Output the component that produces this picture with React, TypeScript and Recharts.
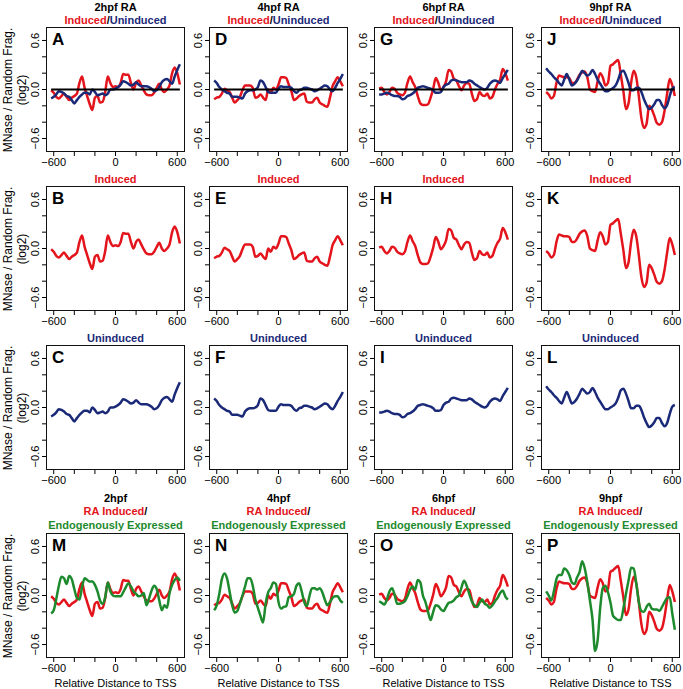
import React from 'react';
import { LineChart, Line, XAxis, YAxis, ReferenceLine } from 'recharts';

// distance to TSS (bp), shared by every profile
const positions = [
  -625, -600, -575, -550, -525, -500, -475, -450, -425, -400,
  -375, -350, -325, -300, -275, -250, -225, -200, -175, -150,
  -125, -100, -75, -50, -25, 0, 25, 50, 75, 100,
  125, 150, 175, 200, 225, 250, 275, 300, 325, 350,
  375, 400, 425, 450, 475, 500, 525, 550, 575, 600,
  625,
];

const stages = ['2hpf', '4hpf', '6hpf', '9hpf'];

// RA induced genes
const inducedH2 = [
  -0.01, -0.04, -0.09, -0.11, -0.08, -0.05, -0.09, -0.13, -0.1, -0.08,
  -0.05, 0.08, 0.16, 0.02, -0.08, -0.18, -0.25, -0.1, -0.08, -0.16,
  -0.15, -0.03, 0.16, 0.08, 0.03, 0.04, 0.03, 0.08, 0.19, 0.18,
  0.18, 0.08, 0.0, 0.08, 0.11, 0.05, -0.01, -0.06, -0.07, -0.07,
  -0.04, 0.02, 0.07, 0.0, -0.03, 0.0, 0.05, 0.2, 0.27, 0.2,
  0.06,
];
const inducedH4 = [
  -0.12, -0.1, -0.09, -0.05, 0.01, -0.01, -0.03, -0.1, -0.16, -0.13,
  -0.09, -0.01, 0.05, 0.05, 0.05, 0.02, -0.1, -0.09, -0.06, -0.1,
  -0.13, 0.0, -0.04, 0.02, 0.0, 0.06, 0.15, 0.15, 0.14, 0.06,
  -0.02, -0.13, -0.11, -0.08, -0.06, -0.05, -0.15, -0.16, -0.16, -0.12,
  -0.1, -0.16, -0.18, -0.2, -0.21, -0.1, 0.04, 0.1, 0.15, 0.1,
  0.04,
];
const inducedH6 = [
  0.01, 0.02, -0.03, -0.06, -0.03, 0.02, 0.01, -0.04, -0.06, -0.07,
  -0.04, 0.08, 0.16, 0.09, 0.03, -0.08, -0.17, -0.19, -0.19, -0.18,
  -0.1, 0.01, 0.14, 0.08, -0.01, 0.03, 0.1, 0.24, 0.22, 0.13,
  0.11, 0.04, -0.01, 0.05, 0.08, 0.07, -0.05, -0.14, -0.12, -0.03,
  -0.07, -0.08, -0.05, -0.11, -0.09, 0.0, 0.07, 0.12, 0.25, 0.2,
  0.11,
];
const inducedH9 = [
  -0.03, -0.06, -0.11, -0.08, 0.08, 0.17, 0.16, 0.15, 0.15, 0.14,
  0.08, 0.08, 0.12, 0.18, 0.21, 0.22, 0.15, 0.0, -0.02, -0.03,
  0.1, 0.2, 0.15, 0.05, 0.08, 0.29, 0.31, 0.34, 0.36, 0.18,
  -0.02, -0.24, -0.17, 0.08, 0.23, 0.15, -0.08, -0.35, -0.47, -0.42,
  -0.2, -0.24, -0.32, -0.41, -0.43, -0.4, -0.26, -0.05, 0.13, 0.05,
  -0.08,
];

// uninduced genes
const uninducedH2 = [
  -0.11, -0.09, -0.06, -0.02, -0.03, -0.05, -0.08, -0.09, -0.13, -0.17,
  -0.13, -0.09, -0.06, -0.04, -0.04, -0.06, 0.0, -0.03, -0.07, -0.06,
  -0.05, -0.07, -0.05, 0.0, 0.0, 0.01, 0.03, 0.06, 0.1, 0.09,
  0.07, 0.05, 0.06, 0.09, 0.06, 0.04, 0.04, 0.04, 0.03, 0.01,
  -0.02, -0.01, 0.03, 0.09, 0.12, 0.13, 0.1, 0.07, 0.16, 0.24,
  0.31,
];
const uninducedH4 = [
  0.11, 0.08, 0.03, 0.0, -0.02, -0.04, -0.05, -0.09, -0.09, -0.09,
  -0.1, -0.11, -0.05, -0.02, -0.01, -0.01, 0.0, 0.03, 0.11, 0.09,
  0.03, -0.03, -0.04, -0.04, -0.04, 0.01, 0.04, 0.03, 0.03, 0.03,
  0.02, -0.02, -0.04, -0.01, 0.0, 0.02, 0.02, 0.01, 0.0, -0.02,
  -0.01, 0.01, 0.03, 0.05, 0.04, 0.0, -0.02, 0.02, 0.08, 0.13,
  0.19,
];
const uninducedH6 = [
  -0.06, -0.06, -0.05, -0.04, -0.05, -0.07, -0.08, -0.08, -0.09, -0.12,
  -0.11, -0.08, -0.07, -0.05, -0.02, 0.02, 0.03, 0.04, 0.03, 0.02,
  0.01, -0.01, -0.04, -0.04, -0.03, 0.03, 0.06, 0.07, 0.11, 0.12,
  0.11, 0.1, 0.09, 0.09, 0.09, 0.11, 0.1, 0.07, 0.05, 0.03,
  0.01, 0.0, 0.02, 0.07, 0.1, 0.11, 0.1, 0.08, 0.14, 0.19,
  0.24,
];
const uninducedH9 = [
  0.26, 0.22, 0.19, 0.15, 0.12, 0.08, 0.05, 0.12, 0.19, 0.12,
  0.05, 0.07, 0.11, 0.17, 0.23, 0.2, 0.17, 0.19, 0.24, 0.19,
  0.12, 0.07, 0.02, -0.02, -0.02, 0.0, 0.02, 0.05, 0.12, 0.21,
  0.23, 0.17, 0.08, -0.01, -0.01, 0.02, 0.02, -0.03, -0.12, -0.19,
  -0.24, -0.22, -0.18, -0.13, -0.13, -0.19, -0.23, -0.19, -0.08, 0.01,
  0.03,
];

// endogenously expressed genes
const endoH2 = [
  -0.22, -0.18, -0.04, 0.12, 0.23, 0.21, 0.14, 0.24, 0.2, 0.08,
  -0.03, -0.05, 0.1, 0.21, 0.19, 0.17, 0.17, 0.13, 0.05, -0.06,
  -0.1, -0.02, 0.16, 0.05, 0.0, -0.01, -0.01, -0.01, 0.04, 0.1,
  0.15, 0.11, 0.05, 0.02, -0.01, 0.0, 0.03, -0.12, -0.04, 0.06,
  0.12, 0.08, -0.06, -0.18, -0.12, -0.15, 0.03, 0.13, 0.19, 0.22,
  0.18,
];
const endoH4 = [
  -0.18, -0.12, 0.02, 0.2, 0.27, 0.21, 0.05, -0.12, -0.21, -0.19,
  -0.1, 0.0, 0.11, 0.21, 0.21, 0.12, -0.05, -0.15, -0.25, -0.33,
  -0.1, 0.04, 0.09, 0.16, 0.14, -0.08, -0.16, -0.14, -0.13, -0.02,
  -0.01, 0.02, 0.12, 0.15, 0.05, -0.08, -0.13, -0.01, 0.09, 0.09,
  0.07, 0.09, 0.04, -0.05, -0.12, -0.08, -0.03, -0.01, -0.01, -0.06,
  -0.09,
];
const endoH6 = [
  -0.07, -0.09, -0.11, -0.05, 0.05, 0.09, 0.01, -0.1, -0.1, -0.09,
  -0.07, -0.01, 0.07, 0.11, 0.07, 0.19, 0.16, 0.0, -0.08, -0.2,
  -0.3, -0.2, -0.12, -0.13, -0.17, -0.19, -0.14, -0.09, -0.08, -0.06,
  -0.02, 0.0, 0.1, 0.18, 0.12, 0.02, -0.07, -0.12, -0.14, -0.09,
  -0.05, -0.1, -0.12, -0.15, -0.12, -0.07, -0.03, 0.03, 0.06, -0.01,
  -0.05,
];
const endoH9 = [
  0.05, 0.0, -0.06, 0.05, 0.2, 0.25, 0.25, 0.33, 0.31, 0.25,
  0.16, 0.14, 0.22, 0.29, 0.42, 0.33, 0.16, -0.06, -0.29, -0.68,
  -0.55, -0.15, 0.09, 0.12, 0.04, -0.09, -0.25, -0.28, -0.3, -0.3,
  -0.16, 0.02, 0.18, 0.34, 0.33, 0.15, -0.08, -0.19, -0.2, -0.14,
  -0.1, -0.16, -0.17, -0.17, -0.19, -0.14, -0.08, -0.03, -0.02, -0.22,
  -0.42,
];

const induced = [inducedH2, inducedH4, inducedH6, inducedH9];
const uninduced = [uninducedH2, uninducedH4, uninducedH6, uninducedH9];
const endo = [endoH2, endoH4, endoH6, endoH9];

const xTicks = [-600, -400, -200, 0, 200, 400, 600];
const yTicks = [-0.6, -0.4, -0.2, 0, 0.2, 0.4, 0.6];

const RED = '#e3141c';
const BLUE = '#1b2a78';
const GREEN = '#1e8a2e';
const FONT = '"Liberation Sans", Arial, Helvetica, sans-serif';

const colLeft = [46, 209, 374, 541];
const rowTop = [27, 186, 345, 533];
const BOX_W = 139;
const BOX_H = 125;
const AXIS_W = 40;
const AXIS_H = 24;
const PAD = 6;

const fmtX = (v: number) => (v === 0 ? '0' : v === 600 ? '600' : v === -600 ? '\u2212600' : '');

function YTick(props: any) {
  const { x, y, payload } = props;
  const v = payload.value;
  let label = '';
  if (Math.abs(v) < 1e-9) label = '0.0';
  else if (Math.abs(v - 0.6) < 1e-9) label = '0.6';
  else if (Math.abs(v + 0.6) < 1e-9) label = '\u22120.6';
  if (!label) return null;
  return (
    <text x={x} y={y} transform={`rotate(-90 ${x} ${y})`} textAnchor="middle" fontSize={11} fill="#000">
      {label}
    </text>
  );
}

type Series = { key: string; values: number[]; color: string };

function Panel({ letter, lines, zero, left, top }: { letter: string; lines: Series[]; zero?: boolean; left: number; top: number }) {
  const data = positions.map((pos, i) => {
    const row: any = { pos };
    lines.forEach((l) => (row[l.key] = l.values[i]));
    return row;
  });
  return (
    <div style={{ position: 'absolute', left: left - AXIS_W, top: top - PAD, fontFamily: FONT }}>
      <LineChart
        width={BOX_W + AXIS_W + PAD}
        height={BOX_H + PAD + AXIS_H}
        data={data}
        margin={{ top: PAD, right: PAD, bottom: 0, left: 0 }}
      >
        <XAxis
          type="number"
          dataKey="pos"
          domain={[-675, 675]}
          ticks={xTicks}
          interval={0}
          tickFormatter={fmtX}
          axisLine={false}
          tickSize={4}
          tickMargin={2}
          height={AXIS_H}
          tick={{ fontSize: 11, fill: '#000' }}
          tickLine={{ stroke: '#000' }}
          allowDataOverflow
        />
        <YAxis
          type="number"
          domain={[-0.765, 0.765]}
          ticks={yTicks}
          interval={0}
          width={AXIS_W}
          axisLine={false}
          tickSize={4}
          tickMargin={3}
          tick={<YTick />}
          tickLine={{ stroke: '#000' }}
          allowDataOverflow
        />
        {lines.map((l) => (
          <Line
            key={l.key}
            type="monotone"
            dataKey={l.key}
            stroke={l.color}
            strokeWidth={2.5}
            dot={false}
            isAnimationActive={false}
          />
        ))}
        {zero && (
          <ReferenceLine
            segment={[
              { x: -625, y: 0 },
              { x: 625, y: 0 },
            ]}
            stroke="#000"
            strokeWidth={2.2}
          />
        )}
      </LineChart>
      <div
        style={{
          position: 'absolute',
          left: AXIS_W,
          top: PAD,
          width: BOX_W,
          height: BOX_H,
          border: '1.5px solid #111',
          boxSizing: 'border-box',
          pointerEvents: 'none',
        }}
      />
      <div
        style={{
          position: 'absolute',
          left: AXIS_W + 6,
          top: PAD + 4,
          fontSize: 17,
          lineHeight: 1,
          fontWeight: 'bold',
          color: '#000',
        }}
      >
        {letter}
      </div>
    </div>
  );
}

function Title({ cx, cy, children }: { cx: number; cy: number; children: React.ReactNode }) {
  return (
    <div
      style={{
        position: 'absolute',
        left: cx - 90,
        top: cy - 7,
        width: 180,
        height: 14,
        lineHeight: '14px',
        textAlign: 'center',
        fontSize: 11,
        fontWeight: 'bold',
        whiteSpace: 'nowrap',
      }}
    >
      {children}
    </div>
  );
}

function YTitle({ cy }: { cy: number }) {
  const base: React.CSSProperties = {
    position: 'absolute',
    width: 170,
    height: 14,
    lineHeight: '14px',
    textAlign: 'center',
    fontSize: 12,
    transform: 'rotate(-90deg)',
    whiteSpace: 'nowrap',
  };
  return (
    <>
      <div style={{ ...base, left: 8 - 85, top: cy - 7 }}>MNase / Random Frag.</div>
      <div style={{ ...base, left: 22 - 85, top: cy - 7 }}>(log2)</div>
    </>
  );
}

const letters = [
  ['A', 'D', 'G', 'J'],
  ['B', 'E', 'H', 'K'],
  ['C', 'F', 'I', 'L'],
  ['M', 'N', 'O', 'P'],
];

export default function App() {
  return (
    <div
      style={{
        position: 'absolute',
        left: 0,
        top: 0,
        width: 683,
        height: 689,
        background: '#fff',
        overflow: 'hidden',
        fontFamily: FONT,
        color: '#000',
      }}
    >
      {rowTop.map((t) => (
        <YTitle key={t} cy={t + BOX_H / 2} />
      ))}
      {stages.map((stage, c) => {
        const left = colLeft[c];
        const cx = left + BOX_W / 2;
        return (
          <React.Fragment key={stage}>
            <Title cx={cx} cy={7}>{stage} RA</Title>
            <Title cx={cx} cy={20}>
              <span style={{ color: RED }}>Induced</span>/<span style={{ color: BLUE }}>Uninduced</span>
            </Title>
            <Panel
              letter={letters[0][c]}
              left={left}
              top={rowTop[0]}
              zero
              lines={[
                { key: 'induced', values: induced[c], color: RED },
                { key: 'uninduced', values: uninduced[c], color: BLUE },
              ]}
            />

            <Title cx={cx} cy={179}>
              <span style={{ color: RED }}>Induced</span>
            </Title>
            <Panel
              letter={letters[1][c]}
              left={left}
              top={rowTop[1]}
              lines={[{ key: 'induced', values: induced[c], color: RED }]}
            />

            <Title cx={cx} cy={338}>
              <span style={{ color: BLUE }}>Uninduced</span>
            </Title>
            <Panel
              letter={letters[2][c]}
              left={left}
              top={rowTop[2]}
              lines={[{ key: 'uninduced', values: uninduced[c], color: BLUE }]}
            />

            <Title cx={cx} cy={498}>{stage}</Title>
            <Title cx={cx} cy={511}>
              <span style={{ color: RED }}>RA Induced</span>/
            </Title>
            <Title cx={cx} cy={525}>
              <span style={{ color: GREEN }}>Endogenously Expressed</span>
            </Title>
            <Panel
              letter={letters[3][c]}
              left={left}
              top={rowTop[3]}
              lines={[
                { key: 'induced', values: induced[c], color: RED },
                { key: 'endo', values: endo[c], color: GREEN },
              ]}
            />
            <div
              style={{
                position: 'absolute',
                left: cx - 90,
                top: 676,
                width: 180,
                lineHeight: '14px',
                textAlign: 'center',
                fontSize: 11,
              }}
            >
              Relative Distance to TSS
            </div>
          </React.Fragment>
        );
      })}
    </div>
  );
}
